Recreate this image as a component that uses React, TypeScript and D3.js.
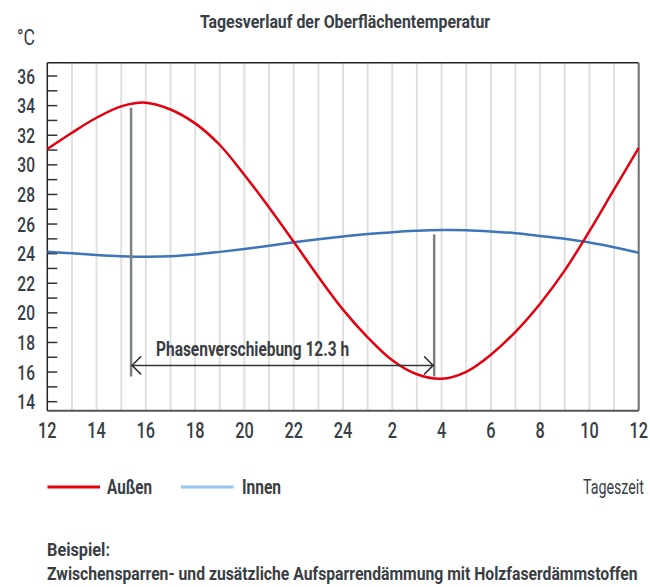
import React, { useLayoutEffect, useRef, useState } from "react";
import * as d3 from "d3";

// hours after 12:00 (0..24)
const hours = [0, 1, 2, 3, 4, 5, 6, 7, 8, 9, 10, 11, 12, 13, 14, 15, 16, 17, 18, 19, 20, 21, 22, 23, 24];
const outside = [31.07, 32.17, 33.18, 33.95, 34.2, 33.74, 32.8, 31.34, 29.32, 27.12, 24.8, 22.44, 20.22, 18.35, 16.8, 15.85, 15.55, 16.02, 17.17, 18.72, 20.62, 22.87, 25.52, 28.34, 31.14];
const inside = [24.13, 24.02, 23.91, 23.83, 23.79, 23.82, 23.94, 24.12, 24.32, 24.54, 24.77, 24.98, 25.16, 25.32, 25.45, 25.54, 25.59, 25.58, 25.5, 25.38, 25.2, 25.0, 24.75, 24.43, 24.06];
const xTickHours = [0, 2, 4, 6, 8, 10, 12, 14, 16, 18, 20, 22, 24];
const xTickLabels = ["12", "14", "16", "18", "20", "22", "24", "2", "4", "6", "8", "10", "12"];
const yTicks = [14, 15, 16, 17, 18, 19, 20, 21, 22, 23, 24, 25, 26, 27, 28, 29, 30, 31, 32, 33, 34, 35, 36];
const yLabels = [14, 16, 18, 20, 22, 24, 26, 28, 30, 32, 34, 36];
// annotation (hours, °C)
const phaseStart = 3.4;
const phaseEnd = 15.7;
const phaseStartTop = 33.85;
const phaseEndTop = 25.3;
const phaseBottom = 15.7;
const phaseArrowAt = 16.45;

const FONT = "Roboto, 'Liberation Sans', 'DejaVu Sans', sans-serif";
const TXT = "#383e44";

function CT(props: {
  x: number; y: number; sx?: number; anchor?: string; size: number; weight?: string | number; dy?: string; children: React.ReactNode;
}) {
  const { x, y, sx = 0.74, anchor = "start", size, weight = "normal", dy, children } = props;
  return (
    <text transform={`translate(${x},${y}) scale(${sx},1)`} textAnchor={anchor as any} fontSize={size} fontWeight={weight} dy={dy} fill={TXT}>
      {children}
    </text>
  );
}

// text squeezed horizontally to a given width
function FitText(props: {
  x: number; y: number; width: number; anchor?: string; size: number; weight?: string | number; children: string;
}) {
  const { x, y, width, anchor = "start", size, weight = "normal", children } = props;
  const ref = useRef<SVGTextElement>(null);
  const [s, setS] = useState(0.78);
  useLayoutEffect(() => {
    if (ref.current) {
      const w = ref.current.getComputedTextLength();
      if (w > 0) setS(width / w);
    }
  }, [width, children, size]);
  return (
    <text ref={ref} transform={`translate(${x},${y}) scale(${s},1)`} textAnchor={anchor as any} fontSize={size} fontWeight={weight} fill={TXT}>
      {children}
    </text>
  );
}

export default function App() {
  const W = 650, H = 587;
  const left = 47.3, right = 638.7, top = 62.7, bottom = 410.7;
  const x = d3.scaleLinear().domain([0, 24]).range([left, right]);
  const y = d3.scaleLinear().domain([13.39, 36.9]).range([bottom, top]);
  const line = d3.line<[number, number]>()
    .x((d) => x(d[0]))
    .y((d) => y(d[1]))
    .curve(d3.curveCatmullRom.alpha(0.5));
  const redPath = line(hours.map((h, i) => [h, outside[i]]) as [number, number][]) || "";
  const bluePath = line(hours.map((h, i) => [h, inside[i]]) as [number, number][]) || "";

  const ax1 = x(phaseStart), ax2 = x(phaseEnd), ay = y(phaseArrowAt);

  return (
    <svg width={W} height={H} style={{ position: "absolute", left: 0, top: 0, background: "#fff" }} fontFamily={FONT}>
      <FitText x={345} y={28} width={290} anchor="middle" size={18} weight="bold">Tagesverlauf der Oberflächentemperatur</FitText>
      <CT x={17} y={45} size={22} sx={0.8}>°C</CT>

      {/* gridlines */}
      {hours.filter((h) => h > 0 && h < 24).map((h) => (
        <line key={h} x1={x(h)} x2={x(h)} y1={top} y2={bottom} stroke="#e0e0e0" strokeWidth={2} />
      ))}

      {/* frame */}
      <line x1={left} x2={right} y1={top} y2={top} stroke="#222" strokeWidth={1.5} />
      <line x1={right} x2={right} y1={top} y2={bottom} stroke="#6e6e6e" strokeWidth={2} />
      <line x1={left} x2={right} y1={bottom} y2={bottom} stroke="#555" strokeWidth={2} />
      <line x1={left} x2={left} y1={top} y2={bottom} stroke="#222" strokeWidth={1.5} />

      {/* y ticks */}
      {yTicks.map((t) => (
        <line key={t} x1={left} x2={left + 10} y1={y(t)} y2={y(t)} stroke="#333" strokeWidth={1.5} />
      ))}
      {yLabels.map((t) => (
        <CT key={t} x={35} y={y(t)} dy="0.36em" anchor="end" size={21} weight={500}>{t}</CT>
      ))}
      {xTickHours.map((h, i) => (
        <CT key={i} x={x(h)} y={430} dy="0.36em" anchor="middle" size={22} weight={500}>{xTickLabels[i]}</CT>
      ))}

      {/* curves */}
      <path d={bluePath} fill="none" stroke="#3d75b6" strokeWidth={2.5} />
      <path d={redPath} fill="none" stroke="#e3000f" strokeWidth={2.5} />

      {/* annotation */}
      <line x1={ax1} x2={ax1} y1={y(phaseStartTop)} y2={y(phaseBottom)} stroke="#7b8085" strokeWidth={2.5} />
      <line x1={ax2} x2={ax2} y1={y(phaseEndTop)} y2={y(phaseBottom)} stroke="#7b8085" strokeWidth={2.5} />
      <line x1={ax1} x2={ax2} y1={ay} y2={ay} stroke="#333" strokeWidth={1.5} />
      <path d={`M${ax1 + 10},${ay - 9} L${ax1 + 1},${ay} L${ax1 + 10},${ay + 9}`} fill="none" stroke="#333" strokeWidth={1.5} />
      <path d={`M${ax2 - 10},${ay - 9} L${ax2 - 1},${ay} L${ax2 - 10},${ay + 9}`} fill="none" stroke="#333" strokeWidth={1.5} />
      <FitText x={156} y={356} width={193} size={20} weight="bold">Phasenverschiebung 12.3 h</FitText>

      {/* legend */}
      <line x1={47.5} x2={100} y1={487} y2={487} stroke="#e3000f" strokeWidth={3} />
      <FitText x={107} y={494} width={45} size={20} weight="bold">Außen</FitText>
      <line x1={181} x2={233.5} y1={487} y2={487} stroke="#93c6ec" strokeWidth={3} />
      <FitText x={242} y={494} width={39} size={20} weight="bold">Innen</FitText>
      <FitText x={644} y={494} width={61} anchor="end" size={20}>Tageszeit</FitText>

      {/* footnote */}
      <FitText x={47} y={556} width={63} size={18} weight="bold">Beispiel:</FitText>
      <FitText x={47} y={580} width={591} size={17.5} weight="bold">Zwischensparren- und zusätzliche Aufsparrendämmung mit Holzfaserdämmstoffen</FitText>
    </svg>
  );
}
